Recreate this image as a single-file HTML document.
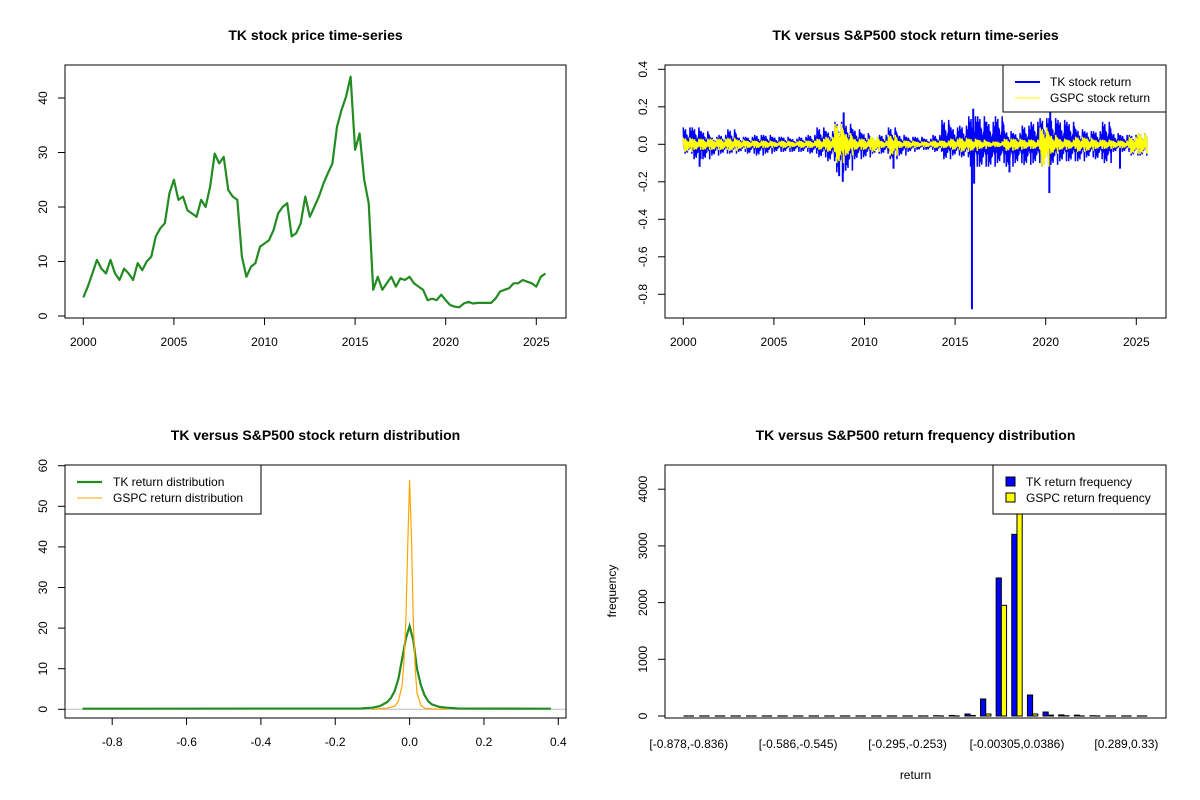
<!DOCTYPE html>
<html><head><meta charset="utf-8"><style>
body{margin:0;background:#fff}
svg{display:block;font-family:"Liberation Sans",Arial,sans-serif}
</style></head><body>
<svg id="c" width="1200" height="800" xmlns="http://www.w3.org/2000/svg"></svg>
<script>
// ---------- DATA ----------
const priceStart = 2000, priceStep = 0.25;
const priceValues = [3.4,5.4,7.8,10.3,8.7,7.8,10.3,7.8,6.6,8.7,7.8,6.6,9.7,8.4,10,10.9,14.6,16.1,17,22.5,25,21.3,21.9,19.4,18.8,18.2,21.3,20,23.7,29.8,28,29.2,23.1,21.9,21.3,10.9,7.2,9,9.7,12.7,13.3,13.9,15.8,18.8,20,20.7,14.6,15.2,17,21.9,18.2,20,21.9,24.3,26.2,28,34.7,37.8,40.2,43.9,30.5,33.5,25,20.7,4.8,7.2,4.8,6,7.2,5.4,6.9,6.6,7.2,6,5.4,4.8,2.9,3.2,2.9,3.9,2.9,2,1.7,1.6,2.3,2.6,2.3,2.4,2.4,2.4,2.4,3.2,4.5,4.8,5.1,6,6,6.6,6.3,6,5.4,7.2,7.8];
const retStart = 2000, retEnd = 2025.6;
const tkHigh = [0.09,0.09,0.07,0.04,0.05,0.08,0.04,0.04,0.05,0.05,0.04,0.04,0.03,0.04,0.05,0.09,0.07,0.12,0.11,0.08,0.06,0.04,0.05,0.09,0.05,0.04,0.04,0.03,0.05,0.13,0.09,0.1,0.15,0.15,0.12,0.15,0.07,0.06,0.1,0.12,0.14,0.14,0.13,0.12,0.08,0.07,0.07,0.12,0.06,0.05,0.05,0.06];
const tkLow = [-0.05,-0.08,-0.08,-0.06,-0.05,-0.05,-0.04,-0.05,-0.06,-0.05,-0.04,-0.04,-0.04,-0.04,-0.05,-0.07,-0.09,-0.15,-0.14,-0.08,-0.07,-0.05,-0.05,-0.08,-0.06,-0.04,-0.03,-0.03,-0.04,-0.08,-0.06,-0.07,-0.12,-0.12,-0.12,-0.1,-0.12,-0.1,-0.11,-0.1,-0.12,-0.11,-0.09,-0.09,-0.09,-0.07,-0.08,-0.1,-0.04,-0.04,-0.06,-0.06];
const gsHigh = [0.035,0.03,0.03,0.03,0.03,0.035,0.025,0.02,0.02,0.02,0.015,0.02,0.015,0.02,0.02,0.03,0.04,0.11,0.06,0.03,0.03,0.04,0.02,0.05,0.02,0.02,0.015,0.015,0.02,0.02,0.03,0.035,0.03,0.025,0.015,0.015,0.03,0.03,0.025,0.025,0.09,0.05,0.03,0.025,0.04,0.035,0.025,0.025,0.02,0.02,0.04,0.06];
const gsLow = [-0.04,-0.03,-0.03,-0.03,-0.03,-0.035,-0.025,-0.02,-0.02,-0.02,-0.015,-0.02,-0.015,-0.02,-0.02,-0.03,-0.04,-0.1,-0.06,-0.03,-0.03,-0.04,-0.02,-0.06,-0.02,-0.02,-0.015,-0.015,-0.02,-0.02,-0.03,-0.04,-0.035,-0.025,-0.015,-0.015,-0.035,-0.03,-0.025,-0.025,-0.12,-0.05,-0.03,-0.025,-0.04,-0.035,-0.025,-0.025,-0.02,-0.02,-0.05,-0.05];
const spikeDates = [2000.9,2008.6,2008.8,2008.85,2011.6,2015.93,2016.05,2016.0,2018.0,2020.2,2020.25,2024.1];
const spikeValues = [-0.12,-0.17,-0.20,0.17,-0.13,-0.88,-0.21,0.19,-0.15,-0.26,0.17,-0.13];
const tkDensX = [-0.88,-0.13,-0.12,-0.1,-0.08,-0.06,-0.05,-0.04,-0.03,-0.02,-0.01,0,0.01,0.02,0.03,0.04,0.05,0.06,0.08,0.1,0.13,0.38];
const tkDensY = [0.15,0.2,0.3,0.4,0.8,1.8,2.8,4.5,7.5,12.5,17.5,20.5,17,10,6,3.5,2,1.2,0.6,0.4,0.2,0.15];
const gsDensX = [-0.1,-0.06,-0.04,-0.03,-0.02,-0.015,-0.01,-0.005,0,0.005,0.01,0.015,0.02,0.03,0.04,0.06,0.1];
const gsDensY = [0,0.3,0.8,2,6,12,22,40,56.5,42,22,10,4,1,0.3,0.1,0];
const binLabels = ["[-0.878,-0.836)","[-0.586,-0.545)","[-0.295,-0.253)","[-0.00305,0.0386)","[0.289,0.33)"];
const binLabelIdx = [0,7,14,21,28];
const tkFreq = [0,0,0,0,0,0,0,0,0,0,0,0,0,0,0,0,5,10,35,300,2434,3204,370,70,20,15,5,0,0,0];
const gsFreq = [0,0,0,0,0,0,0,0,0,0,0,0,0,0,0,0,0,0,10,35,1952,4600,35,15,5,0,0,0,0,0];

// ---------- HELPERS ----------
const S = document.getElementById('c');
const NS = 'http://www.w3.org/2000/svg';
function mk(tag, at, parent){const e=document.createElementNS(NS,tag);for(const k in at)e.setAttribute(k,at[k]);(parent||S).appendChild(e);return e;}
function txt(s,x,y,size,extra){const e=mk('text',Object.assign({x:x,y:y,'font-size':size,'text-anchor':'middle',fill:'#000'},extra||{}));e.textContent=s;return e;}
function box(x0,y0,x1,y1){return mk('rect',{x:x0,y:y0,width:x1-x0,height:y1-y0,fill:'none',stroke:'#000','stroke-width':1});}
function clip(id,x0,y0,x1,y1){const d=mk('defs',{});const c=mk('clipPath',{id:id},d);mk('rect',{x:x0,y:y0,width:x1-x0,height:y1-y0},c);}
function yTicks(vals,fy,xEdge,fmt){vals.forEach(v=>{const y=fy(v);
 const t=mk('line',{x1:xEdge-7,x2:xEdge,y1:y,y2:y,stroke:'#000'});
 
 const l=txt(fmt(v),xEdge-18,y,12,{transform:`rotate(-90 ${xEdge-18} ${y})`});
 });
 mk('line',{x1:xEdge,x2:xEdge,y1:fy(vals[0]),y2:fy(vals[vals.length-1]),stroke:'#000'});}
function xTicks(vals,fx,yEdge,fmt){vals.forEach(v=>{const x=fx(v);
 const t=mk('line',{x1:x,x2:x,y1:yEdge,y2:yEdge+7,stroke:'#000'});
 
 const l=txt(fmt(v),x,yEdge+28,12);
 });
 mk('line',{x1:fx(vals[0]),x2:fx(vals[vals.length-1]),y1:yEdge,y2:yEdge,stroke:'#000'});}
const f1=v=>v.toFixed(1);

// ---------- PANEL 1: price ----------
{const fx=y=>83.3+(y-2000)*18.12, fy=v=>316-v*5.45;
 const t=txt('TK stock price time-series',315.5,40,14,{'font-weight':'bold'});
 
 clip('cp1',65,65,566,318);
 let d='';priceValues.forEach((v,i)=>{d+=(i?'L':'M')+fx(priceStart+i*priceStep).toFixed(1)+' '+fy(v).toFixed(1);});
 const p=mk('path',{d:d,fill:'none',stroke:'#228B22','stroke-width':2.2,'stroke-linejoin':'round','clip-path':'url(#cp1)'});
 
 const b=box(65,65,566,318);
 yTicks([0,10,20,30,40],fy,65,v=>String(v));
 xTicks([2000,2005,2010,2015,2020,2025],fx,318,v=>String(v));}

// ---------- PANEL 2: returns ----------
{const fx=y=>683.3+(y-2000)*18.12, fy=v=>144.3-v*187.5;
 const t=txt('TK versus S&P500 stock return time-series',915.5,40,14,{'font-weight':'bold'});
 
 const pat=[1,0.55,0.8,0.35,0.7,0.25,0.9,0.45,0.6];
 const step=(retEnd-retStart)/tkHigh.length;
 function zig(hi,lo,n){let d='';let k=0;hi.forEach((h,i)=>{for(let j=0;j<n;j++){const t=retStart+i*step+j*step/n;const v=(j%2?lo[i]*pat[(j+4)%9]:h*pat[j%9]);d+=(k++?'L':'M')+fx(t).toFixed(1)+' '+fy(v).toFixed(1);}});return d;}
 const tk=mk('path',{d:zig(tkHigh,tkLow,24),fill:'none',stroke:'#0000FF','stroke-width':1.5});
 
 spikeDates.forEach((dt,i)=>{const s=mk('line',{x1:fx(dt),x2:fx(dt),y1:fy(0),y2:fy(spikeValues[i]),stroke:'#0000FF','stroke-width':2});
  });
 const gs=mk('path',{d:zig(gsHigh,gsLow,24),fill:'none',stroke:'#FFFF00','stroke-width':1.5});
 
 const b=box(665,65,1166,318);
 yTicks([-0.8,-0.6,-0.4,-0.2,0,0.2,0.4],fy,665,f1);
 xTicks([2000,2005,2010,2015,2020,2025],fx,318,v=>String(v));
 const lg=mk('g',{});
 mk('rect',{x:1003,y:65,width:163,height:47,fill:'#fff',stroke:'#000'},lg);
 mk('line',{x1:1015,x2:1040,y1:82,y2:82,stroke:'#0000FF','stroke-width':2},lg);
 mk('line',{x1:1015,x2:1040,y1:98,y2:98,stroke:'#FFFF00','stroke-width':1},lg);
 lg.appendChild(txt('TK stock return',1050,86,12,{'text-anchor':'start'}));
 lg.appendChild(txt('GSPC stock return',1050,102,12,{'text-anchor':'start'}));}

// ---------- PANEL 3: density ----------
{const fx=v=>409.6+v*371.75, fy=d=>709.3-d*4.06;
 const t=txt('TK versus S&P500 stock return distribution',315.5,440,14,{'font-weight':'bold'});
 
 const z=mk('line',{x1:65,x2:566,y1:fy(0),y2:fy(0),stroke:'#BEBEBE'});
 
 function ln(xs,ys){return xs.map((x,i)=>(i?'L':'M')+fx(x).toFixed(1)+' '+fy(ys[i]).toFixed(1)).join('');}
 const g=mk('path',{d:ln(tkDensX,tkDensY),fill:'none',stroke:'#228B22','stroke-width':2.2});
 
 const o=mk('path',{d:ln(gsDensX,gsDensY),fill:'none',stroke:'#FFA500','stroke-width':1.2});
 
 const b=box(65,465,566,718);
 yTicks([0,10,20,30,40,50,60],fy,65,v=>String(v));
 xTicks([-0.8,-0.6,-0.4,-0.2,0,0.2,0.4],fx,718,f1);
 const lg=mk('g',{});
 mk('rect',{x:65,y:465,width:196,height:49,fill:'#fff',stroke:'#000'},lg);
 mk('line',{x1:77,x2:102,y1:482,y2:482,stroke:'#228B22','stroke-width':2.2},lg);
 mk('line',{x1:77,x2:102,y1:498,y2:498,stroke:'#FFA500','stroke-width':1},lg);
 lg.appendChild(txt('TK return distribution',113,486,12,{'text-anchor':'start'}));
 lg.appendChild(txt('GSPC return distribution',113,502,12,{'text-anchor':'start'}));}

// ---------- PANEL 4: histogram ----------
{const ux=u=>665+(u+2.56)*5.21, fy=f=>716-f*0.0567;
 const t=txt('TK versus S&P500 return frequency distribution',915.5,440,14,{'font-weight':'bold'});
 
 clip('cp4',665,465,1166,718);
 function bar(f,u,col,name){
  if(f>0){const r=mk('rect',{x:ux(u),y:fy(f),width:5.21,height:716-fy(f),fill:col,stroke:'#000','stroke-width':1,'clip-path':'url(#cp4)'});
   }
  else{const r=mk('line',{x1:ux(u),x2:ux(u)+5.21,y1:716,y2:716,stroke:'#000','stroke-width':1.2});
   }}
 tkFreq.forEach((f,i)=>bar(f,1+i*3,'#0000FF','tk-frequency-bar'));
 gsFreq.forEach((f,i)=>bar(f,2+i*3,'#FFFF00','gspc-frequency-bar'));
 const b=box(665,465,1166,718);
 yTicks([0,1000,2000,3000,4000],fy,665,v=>String(v));
 binLabels.forEach((s,k)=>{const l=txt(s,ux(2+binLabelIdx[k]*3),748,12);
  });
 const xl=txt('return',915.5,779,12);
 const yl=txt('frequency',616,591,12,{transform:'rotate(-90 616 591)'});
 const lg=mk('g',{});
 mk('rect',{x:993,y:465,width:173,height:49,fill:'#fff',stroke:'#000'},lg);
 mk('rect',{x:1006,y:477,width:9,height:9,fill:'#0000FF',stroke:'#000'},lg);
 mk('rect',{x:1006,y:493,width:9,height:9,fill:'#FFFF00',stroke:'#000'},lg);
 lg.appendChild(txt('TK return frequency',1026,486,12,{'text-anchor':'start'}));
 lg.appendChild(txt('GSPC return frequency',1026,502,12,{'text-anchor':'start'}));}
</script>
</body></html>
